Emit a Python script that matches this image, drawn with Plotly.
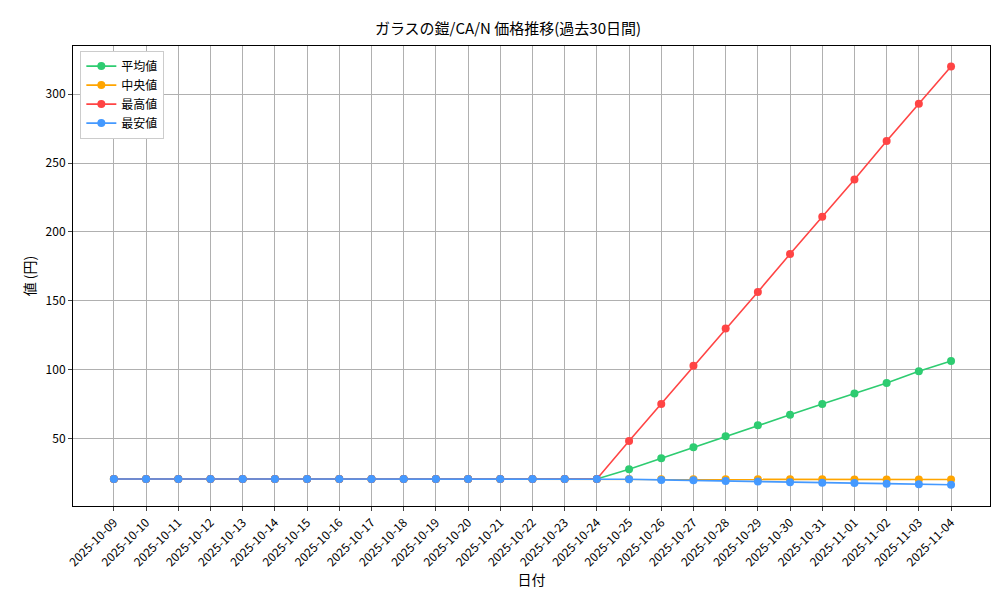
import plotly.graph_objects as go

dates = ["2025-10-%02d" % d for d in range(9, 32)] + ["2025-11-%02d" % d for d in range(1, 5)]
flat = [21] * 16
avg_vals = flat + [28, 36, 44, 52, 60, 67.5, 75.4, 83, 90.5, 99, 106.5]
med_vals = flat + [20.9, 20.8, 20.8, 20.7, 20.7, 20.7, 20.7, 20.6, 20.6, 20.6, 20.6]
max_vals = flat + [48.5, 75.4, 103, 130, 156.5, 184, 211, 238, 266, 293, 320]
min_vals = flat + [20.8, 20.3, 20.0, 19.5, 19.2, 18.7, 18.3, 18.0, 17.6, 17.2, 16.8]

series = [
    ("平均値", avg_vals, "#2ecc71"),
    ("中央値", med_vals, "#ffa500"),
    ("最高値", max_vals, "#ff4444"),
    ("最安値", min_vals, "#4499ff"),
]

fig = go.Figure()
for name, vals, col in series:
    fig.add_trace(go.Scatter(x=dates, y=vals, name=name, mode="lines+markers",
                             line=dict(color=col, width=1.6), marker=dict(size=8, color=col)))

font = "Noto Sans CJK JP"
fig.update_layout(
    width=1000, height=600, plot_bgcolor="white", paper_bgcolor="white",
    font=dict(family=font, size=12, color="black"),
    title=dict(text="ガラスの鎧/CA/N 価格推移(過去30日間)", x=0.5, y=0.975, xanchor="center",
               font=dict(size=15)),
    margin=dict(l=65, r=18, t=38, b=102, autoexpand=False),
    legend=dict(x=0.008, y=0.99, xanchor="left", yanchor="top", bgcolor="white",
                bordercolor="#cccccc", borderwidth=1, font=dict(size=12)),
    xaxis=dict(type="category", range=[-1.27, 27.21], title=dict(text="日付", standoff=4),
               tickangle=-45, showgrid=True, gridcolor="#b0b0b0", showline=True, linecolor="black",
               mirror=True, ticks="outside", ticklen=4, tickfont=dict(size=12), automargin=False),
    yaxis=dict(range=[1.4, 334.8], tickvals=[50, 100, 150, 200, 250, 300],
               title=dict(text="値 (円)", standoff=6),
               showgrid=True, gridcolor="#b0b0b0", showline=True, linecolor="black", mirror=True,
               ticks="outside", ticklen=4, zeroline=False, automargin=False),
)
fig.write_html("out.html")
